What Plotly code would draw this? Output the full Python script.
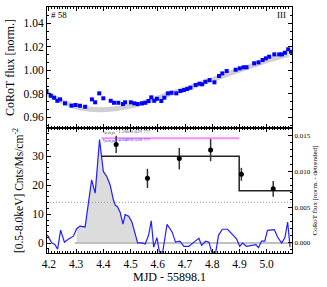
import plotly.graph_objects as go

# ---- data ----
# top panel: CoRoT flux
corot_t = [4.191, 4.207, 4.219, 4.231, 4.241, 4.259, 4.283, 4.298, 4.314, 4.333, 4.358, 4.370,
           4.385, 4.400, 4.427, 4.439, 4.455, 4.472, 4.480, 4.501, 4.514, 4.526, 4.542, 4.554,
           4.566, 4.576, 4.587, 4.597, 4.613, 4.624, 4.637, 4.650, 4.668, 4.683, 4.696, 4.708,
           4.720, 4.739, 4.753, 4.763, 4.775, 4.790, 4.808, 4.825, 4.837, 4.853, 4.886, 4.901,
           4.915, 4.926, 4.954, 4.970, 4.985, 4.997, 5.009, 5.028, 5.046, 5.056, 5.067, 5.079, 5.089]
corot_f = [0.9824, 0.9784, 0.9767, 0.9741, 0.9753, 0.9719, 0.9699, 0.9705, 0.9699, 0.9690, 0.9753, 0.9728,
           0.9804, 0.9762, 0.9741, 0.9724, 0.9724, 0.9713, 0.9728, 0.9728, 0.9719, 0.9713, 0.9719, 0.9724,
           0.9739, 0.9770, 0.9741, 0.9758, 0.9739, 0.9767, 0.9804, 0.9809, 0.9804, 0.9824, 0.9832, 0.9841,
           0.9852, 0.9875, 0.9886, 0.9881, 0.9903, 0.9917, 0.9898, 0.9952, 0.9974, 0.9994, 1.0005, 1.0017,
           1.0026, 1.0026, 1.0060, 1.0068, 1.0088, 1.0102, 1.0116, 1.0136, 1.0136, 1.0136, 1.0150, 1.0179, 1.0158]
trend_t = [4.19, 4.25, 4.30, 4.35, 4.40, 4.45, 4.50, 4.55, 4.60, 4.65, 4.70, 4.75, 4.80, 4.85, 4.90,
           4.95, 5.00, 5.05, 5.08]
trend_f = [0.9805, 0.9735, 0.9690, 0.9668, 0.9665, 0.9675, 0.9695, 0.9725, 0.9765, 0.9805, 0.9840,
           0.9880, 0.9920, 0.9962, 1.0002, 1.0042, 1.0082, 1.0118, 1.0135]

# bottom panel: X-ray light curve (left axis)
xray_t = [4.194, 4.210, 4.222, 4.232, 4.243, 4.257, 4.271, 4.290, 4.302, 4.314, 4.333, 4.357,
          4.370, 4.386, 4.400, 4.413, 4.425, 4.437, 4.444, 4.452, 4.462, 4.472, 4.480, 4.493,
          4.505, 4.526, 4.542, 4.554, 4.566, 4.576, 4.585, 4.597, 4.606, 4.618, 4.634, 4.653,
          4.665, 4.681, 4.696, 4.714, 4.733, 4.751, 4.761, 4.776, 4.788, 4.798, 4.813, 4.823,
          4.837, 4.856, 4.874, 4.889, 4.901, 4.911, 4.926, 4.942, 4.960, 4.970, 4.981, 4.993,
          5.003, 5.028, 5.040, 5.055, 5.067, 5.077, 5.086]
xray_c = [2.9, 0.1, -0.5, -2.1, 4.5, 0.3, 1.3, 2.4, 5.0, 5.9, 5.6, 21.9,
          17.3, 35.8, 24.8, 23.0, 20.1, 14.9, 13.1, 12.6, 10.6, 6.6, 9.9, 9.3,
          7.3, 0.1, 0.1, -0.3, 2.7, 7.7, -1.4, 1.9, -3.1, -3.1, 6.5, 3.8,
          0.35, 0.7, -1.1, -1.1, 0.35, 1.7, -0.8, 0.7, 0.35, -3.1, -3.1, 2.7,
          4.8, 4.8, 3.0, 1.5, -1.1, 0.0, -1.1, -0.8, -0.5, -1.6, 0.7, 0.7,
          4.4, 4.7, 2.1, 0.0, 1.9, 7.3, -1.4]
flare_start, flare_end = 4.295, 4.53
quiescent_level = 14.1

# bottom panel: detrended CoRoT (right axis)
det_t = [4.447, 4.562, 4.679, 4.794, 4.907, 5.024]
det_f = [0.01375, 0.00901, 0.01177, 0.01296, 0.00958, 0.00755]
det_err = [0.0012, 0.00134, 0.0015, 0.00155, 0.0009, 0.0011]
step_t = [4.393, 4.899, 4.899, 5.093]
step_f = [0.01211, 0.01211, 0.00727, 0.00727]
pink_t = [4.393, 4.899]
pink_f = [0.0146, 0.0146]

xr = [4.193, 5.093]
serif = "Liberation Serif"

fig = go.Figure()

# top panel
fig.add_trace(go.Scatter(x=trend_t, y=trend_f, mode="lines", line=dict(color="#d0d0d0", width=5, shape="spline"),
                         xaxis="x", yaxis="y", hoverinfo="skip"))
fig.add_trace(go.Scatter(x=corot_t, y=corot_f, mode="markers", marker=dict(color="#0000ff", size=4, symbol="square"),
                         xaxis="x", yaxis="y"))

# bottom panel
flare_t = [t for t in xray_t if flare_start <= t <= flare_end]
flare_c = [c for t, c in zip(xray_t, xray_c) if flare_start <= t <= flare_end]
fig.add_trace(go.Scatter(x=flare_t, y=flare_c, mode="lines", line=dict(width=0), fill="tozeroy",
                         fillcolor="#dcdcdc", xaxis="x2", yaxis="y2", hoverinfo="skip"))
fig.add_trace(go.Scatter(x=[flare_start, xr[1]], y=[0, 0], mode="lines", line=dict(color="#c0c0c0", width=2),
                         xaxis="x2", yaxis="y2"))
fig.add_trace(go.Scatter(x=xr, y=[quiescent_level, quiescent_level], mode="lines",
                         line=dict(color="#888888", width=0.8, dash="1px,2px"), xaxis="x2", yaxis="y2"))
fig.add_trace(go.Scatter(x=xray_t, y=xray_c, mode="lines", line=dict(color="#2020ff", width=1.2),
                         xaxis="x2", yaxis="y2"))
fig.add_trace(go.Scatter(x=pink_t, y=pink_f, mode="lines", line=dict(color="#ff88ff", width=2),
                         xaxis="x2", yaxis="y3"))
fig.add_trace(go.Scatter(x=step_t, y=step_f, mode="lines", line=dict(color="#222222", width=1.5),
                         xaxis="x2", yaxis="y3"))
fig.add_trace(go.Scatter(x=det_t, y=det_f, mode="markers", marker=dict(color="black", size=5),
                         error_y=dict(type="data", array=det_err, color="#333333", thickness=1.5, width=0),
                         xaxis="x2", yaxis="y3"))

tickfont = dict(family=serif, size=11.5, color="black")
common_x = dict(range=xr, showline=True, linecolor="black", linewidth=1, mirror="ticks", ticks="inside",
                ticklen=4, tickcolor="black", dtick=0.1, tick0=4.2, tickformat=".1f",
                minor=dict(ticks="inside", ticklen=2, dtick=0.01, tickcolor="black"),
                showgrid=False, zeroline=False, tickfont=tickfont, automargin=False)

fig.update_layout(
    width=327, height=287, margin=dict(l=47, r=35, t=7, b=34),
    paper_bgcolor="white", plot_bgcolor="white", showlegend=False,
    font=dict(family=serif, color="black"),
    xaxis=dict(common_x, domain=[0, 1], anchor="y", showticklabels=False, matches="x2"),
    yaxis=dict(domain=[0.508, 1], anchor="x", range=[0.9509, 1.0539], showline=True, linecolor="black",
               mirror="ticks", ticks="inside", ticklen=4, tickcolor="black", dtick=0.02, tick0=0.96,
               tickformat=".2f", minor=dict(ticks="inside", ticklen=2, dtick=0.02 / 3, tickcolor="black"),
               showgrid=False, zeroline=False, tickfont=tickfont, automargin=False,
               title=dict(text="CoRoT flux [norm.]", font=dict(family=serif, size=12), standoff=6)),
    xaxis2=dict(common_x, domain=[0, 1], anchor="y2",
                title=dict(text="MJD - 55898.1", font=dict(family=serif, size=12), standoff=2)),
    yaxis2=dict(domain=[0, 0.508], anchor="x2", range=[-3.42, 39.83], showline=True, linecolor="black",
                mirror=False, ticks="inside", ticklen=4, tickcolor="black", dtick=10, tick0=0,
                minor=dict(ticks="inside", ticklen=2, dtick=2, tickcolor="black"),
                showgrid=False, zeroline=False, tickfont=tickfont, automargin=False,
                title=dict(text="[0.5-8.0keV] Cnts/Ms/cm<sup>-2</sup>", font=dict(family=serif, size=11.5), standoff=6)),
    yaxis3=dict(overlaying="y2", side="right", anchor="x2", range=[-0.00142, 0.01604], showline=True,
                linecolor="black", ticks="inside", ticklen=4, tickcolor="black", dtick=0.005, tick0=0,
                tickformat=".3f", minor=dict(ticks="inside", ticklen=2, dtick=0.001, tickcolor="black"),
                showgrid=False, zeroline=False, tickfont=dict(family=serif, size=7, color="black"),
                automargin=False,
                title=dict(text="CoRoT flux [norm. - detrended]", font=dict(family=serif, size=7), standoff=2)),
    annotations=[
        dict(text="# 58", xref="paper", yref="paper", x=0.01, y=0.997, xanchor="left", yanchor="top",
             showarrow=False, font=dict(family=serif, size=9, color="black")),
        dict(text="III", xref="paper", yref="paper", x=0.985, y=0.995, xanchor="right", yanchor="top",
             showarrow=False, font=dict(family=serif, size=9, color="black")),
        dict(text="t<sub>peak,pn</sub>=1.286/0.029 ???", xref="x2", yref="y3", x=4.393, y=0.01548,
             xanchor="left", yanchor="middle", showarrow=False, font=dict(family=serif, size=5, color="#555555")),
        dict(text="t<sub>peak,pn</sub>=4.040/0.530 ???", xref="x2", yref="y3", x=4.393, y=0.01428,
             xanchor="left", yanchor="middle", showarrow=False, font=dict(family=serif, size=5, color="#3333ff")),
    ],
)

fig.write_html("out.html", config={"displayModeBar": False},
               post_script="document.body.style.margin='0px';")
